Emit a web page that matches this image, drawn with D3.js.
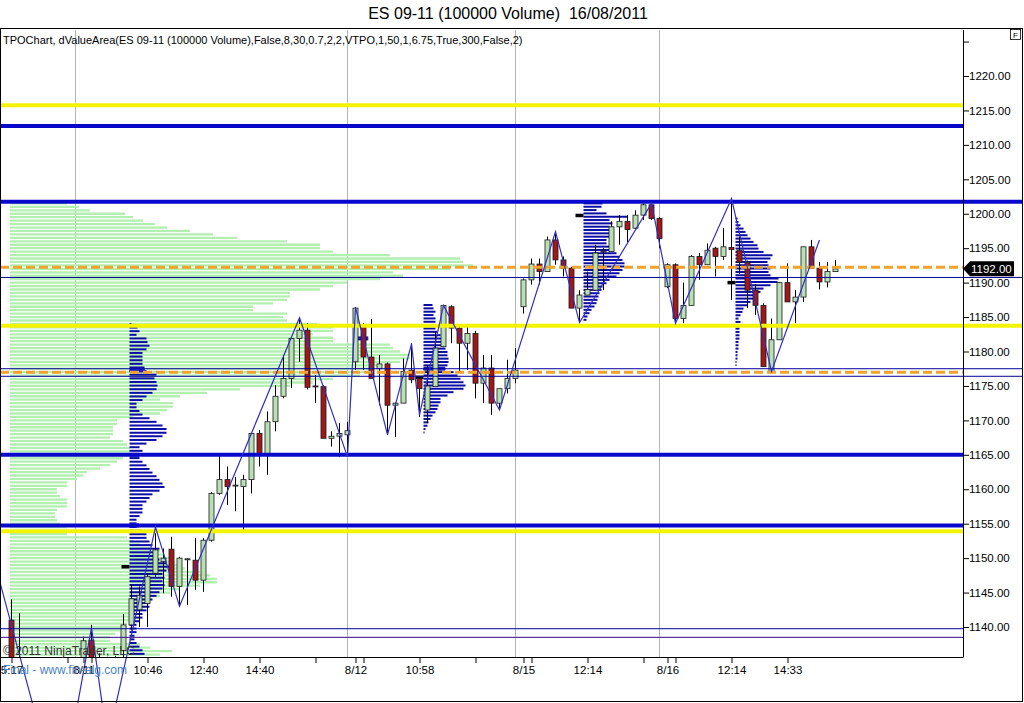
<!DOCTYPE html>
<html><head><meta charset="utf-8">
<script src="https://cdn.jsdelivr.net/npm/d3@7"></script>
<style>
body{margin:0;background:#fff;}
svg{display:block;font-family:"Liberation Sans",Arial,sans-serif;}
text{white-space:pre;}
</style>
</head><body>
<svg id="c" width="1024" height="703"></svg>
<script>
// ---------- DATA ----------
const titleText = "ES 09-11 (100000 Volume)  16/08/2011";
const indicatorText = "TPOChart, dValueArea(ES 09-11 (100000 Volume),False,8,30,0.7,2,2,VTPO,1,50,1,6.75,True,300,False,2)";

const candleOpen  = [1141,1133,1131,1124,1118,1121,1116,1120,1126,1131,1138.1,1132,1128,1126,1136.6,1140.3,1142.5,1143.4,1147.8,1149.5,1151.3,1145.9,1149.8,1149.7,1146.8,1152.6,1159.4,1161.4,1160.5,1160.4,1161.4,1168.1,1165.0,1169.8,1173.5,1176.1,1181.9,1183.1,1175.0,1174.9,1167.4,1167.7,1167.9,1178.5,1183.6,1179.2,1177.5,1178.2,1172.2,1172.5,1177.3,1176.1,1171.5,1174.9,1180.7,1186.5,1183.4,1181.2,1182.6,1175.4,1177.6,1172.5,1174.6,1176.1,1186.5,1190.4,1192.7,1191.6,1196.2,1193.3,1192.1,1186.3,1188.2,1188.9,1194.5,1194.5,1198.1,1198.9,1197.9,1199.8,1201.3,1199.3,1189.4,1192.6,1184.8,1186.7,1193.8,1192.6,1195.0,1193.8,1195.1,1194.7,1193.0,1188.9,1186.7,1177.1,1181.7,1190.0,1187.2,1187.9,1195.2,1192.1,1190.1,1191.6];
const candleHigh  = [1144,1142,1134,1127,1123,1125,1121,1128,1134,1138.6,1140.3,1136.2,1131,1135.8,1141.9,1146.1,1145.9,1147.8,1154.5,1151.4,1153.1,1150.2,1150.0,1152.9,1152.9,1159.6,1165.2,1163.3,1161.8,1162.1,1168.1,1168.6,1171.3,1175.1,1179.5,1181.9,1184.9,1184.1,1176.6,1175.1,1168.4,1169.6,1169.8,1186.4,1184.1,1184.7,1179.5,1178.4,1172.6,1179.0,1181.2,1176.3,1178.0,1182.9,1186.7,1186.7,1183.6,1183.6,1183.0,1179.5,1179.5,1174.6,1178.8,1180.5,1190.6,1193.5,1193.5,1196.7,1197.4,1193.8,1192.3,1188.9,1191.6,1195.5,1195.0,1198.9,1199.8,1199.8,1200.5,1201.5,1201.5,1199.5,1192.8,1192.8,1190.0,1194.0,1194.3,1195.7,1195.2,1197.9,1202.2,1196.7,1193.2,1189.8,1187.0,1184.8,1190.1,1192.8,1188.9,1195.2,1196.2,1193.0,1193.0,1193.3];
const candleLow   = [1128,1125,1122,1116,1114,1115,1112,1119,1124,1130,1129,1126,1123.3,1125,1133,1139.5,1140.0,1140.0,1147.3,1144.9,1144.4,1143.0,1143.2,1145.4,1145.1,1152.4,1159.2,1157.7,1156.8,1153.7,1159.4,1163.3,1162.1,1168.4,1173.2,1174.7,1178.5,1174.5,1172.5,1167.4,1166.2,1164.7,1164.7,1177.3,1177.3,1176.1,1172.2,1167.9,1167.6,1172.5,1175.4,1170.5,1169.6,1174.9,1180.7,1181.2,1177.1,1177.3,1173.2,1172.5,1170.8,1171.5,1173.9,1175.4,1185.5,1189.7,1189.7,1191.6,1192.6,1190.9,1186.3,1184.2,1188.2,1188.9,1188.9,1194.5,1195.5,1195.9,1197.7,1199.1,1199.1,1195.0,1189.2,1184.1,1184.1,1186.7,1190.4,1192.6,1190.9,1193.3,1187.5,1191.3,1186.3,1185.3,1177.8,1177.1,1181.7,1187.2,1184.1,1187.2,1192.1,1189.0,1189.3,1191.6];
const candleClose = [1132,1131,1124,1118,1121,1116,1120,1126,1131,1138.0,1132,1128,1126,1134,1140.3,1144.1,1144.6,1147.3,1151.2,1150.0,1145.9,1150.0,1149.9,1146.8,1152.6,1159.4,1161.4,1160.4,1160.6,1161.4,1168.1,1165.0,1169.8,1173.5,1176.1,1181.9,1183.1,1174.8,1174.9,1167.4,1167.7,1168.1,1168.5,1186.3,1179.2,1176.1,1178.2,1172.2,1172.5,1177.1,1175.9,1174.6,1175.0,1180.5,1186.7,1183.4,1181.2,1182.6,1175.4,1177.6,1172.5,1174.6,1176.1,1177.3,1190.4,1192.7,1191.6,1196.2,1193.3,1192.1,1186.3,1188.2,1189.0,1194.3,1194.6,1198.1,1198.9,1197.7,1199.8,1201.3,1199.3,1196.4,1192.6,1184.8,1186.7,1193.8,1192.6,1194.7,1193.8,1195.2,1194.8,1193.0,1188.9,1186.7,1177.8,1181.7,1190.0,1187.2,1187.9,1195.2,1192.1,1190.1,1191.6,1192.0];

const zigzagBar   = [-2, 6, 10, 12, 18, 21, 36, 42, 43, 47, 50, 51, 54, 61, 68, 71, 80, 83, 90, 95, 101];
const zigzagPrice = [1148.9,1114.3,1139.9,1123.3,1154.5,1143.0,1184.9,1164.7,1186.4,1167.9,1181.1,1170.8,1186.7,1171.5,1197.4,1184.2,1201.5,1184.1,1202.2,1177.1,1196.2];

// composite volume profile (left), from top price to bottom price
const volumeTop = 1201.5, volumeBottom = 1136.0;
const volumeProfile = [57,69,80,115,123,133,145,157,180,203,227,277,310,310,323,380,450,453,463,440,383,393,370,337,323,310,280,280,277,263,243,243,277,273,277,307,323,323,303,323,323,380,383,390,400,400,390,373,363,357,350,323,303,280,230,197,170,150,163,163,157,150,123,107,107,103,103,103,100,113,117,120,120,123,113,107,100,90,77,73,67,57,57,47,47,50,57,57,57,47,45,45,47,50,57,57,57,117,123,130,140,150,155,160,165,170,175,190,200,207,207,190,170,160,150,140,135,130,130,125,120,120,117,117,110,105,100,100,130,140,162,150];

// TPO profiles
const tpoStartBar = [14.75, 51.5, 71.5, 90.5];
const tpoTop      = [1184.0, 1186.75, 1201.5, 1199.3];
const tpoBottom   = [1136.1, 1168.25, 1184.6, 1178.0];
const tpoA = [2,8,10,7,17,18,20,17,13,13,13,13,15,17,27,25,27,28,27,23,17,13,7,7,10,13,20,27,33,37,37,33,27,17,10,13,15,10,13,17,20,23,27,30,33,35,30,23,20,17,13,13,13,10,7,7,7,13,17,17,20,23,30,27,27,30,37,43,37,33,35,33,35,33,30,27,23,20,20,17,13,13,10,7,7,7,5,5,7,10,13,15];
const tpoB = [9,10,12,10,12,12,14,12,14,17,19,20,20,22,24,24,25,25,24,22,30,34,37,40,42,40,30,24,17,17,15,14,12,9,7,5,4,2,1];
const tpoC = [19,18,13,23,44,26,29,26,26,26,26,23,23,26,29,33,36,39,41,41,39,36,33,26,23,19,18,16,15,14,13,11,8,6,4,3];
const tpoD = [2,3,5,8,10,12,15,18,22,23,28,37,35,32,33,35,33,35,43,42,35,28,25,22,18,15,12,8,7,5,3,5,5,4,4,4,4,3,3,3,2,2,2,1,1];
const tpoHighlightBar   = [14.75, 14.75, 14.75, 51.5, 43.2];
const tpoHighlightPrice = [1177.25, 1165.0, 1154.75, 1177.5, 1181.9];
const tpoHighlightLen   = [1.9, 1.2, 1.2, 2.7, 1.4];   // in bars
const pocMarkBar   = [13.75, 50.5, 70.5, 89.5];
const pocMarkPrice = [1148.75, 1176.25, 1199.75, 1190.0];

// horizontal levels
const yellowLevels     = [1215.75, 1183.75, 1153.9];
const blueThickLevels  = [1212.75, 1201.75, 1165.0, 1154.75];
const orangeLevels     = [1192.25, 1177.0];
const thinBlueLevels   = [1190.75, 1177.5, 1176.4, 1139.75];
const thinPurpleLevels = [1138.5];
const extendedLevels   = [1201.75, 1183.75, 1190.75, 1177.5, 1176.4];

const dayLineBars  = [8, 42, 63, 81];
const xTickBars    = [0, 7, 9, 10, 17, 24, 31, 38, 43, 44, 51, 58, 64, 65, 72, 79, 82, 83, 90, 97];
const xTickLabels  = ["5:17","","8/11","","10:46","12:40","14:40","","8/12","","10:58","","8/15","","12:14","","8/16","","12:14","14:33"];
const yTickValues  = d3.range(1140, 1226, 5);
const lastPrice    = 1192.00;

// ---------- LAYOUT ----------
const plotL = 0, plotR = 963, plotT = 30, plotB = 657;
const y = d3.scaleLinear().domain([1140, 1220]).range([627, 76]);
const x = d3.scaleLinear().domain([0, 103]).range([11.5, 835.5]);
const volW = d3.scaleLinear().domain([0, d3.max(volumeProfile)]).range([0, 463]);
const tpoW = d3.scaleLinear().domain([0, 10]).range([0, 10]);

const svg = d3.select("#c");
svg.append("rect").attr("width", 1024).attr("height", 703).attr("fill", "#fff");
const defs = svg.append("defs");
defs.append("clipPath").attr("id", "plotClip").append("rect")
  .attr("x", plotL).attr("y", plotT).attr("width", plotR - plotL).attr("height", plotB - plotT);
defs.append("clipPath").attr("id", "zzClip").append("rect")
  .attr("x", plotL).attr("y", plotT).attr("width", plotR - plotL).attr("height", 703 - plotT);
defs.append("clipPath").attr("id", "wideClip").append("rect")
  .attr("x", plotL).attr("y", plotT).attr("width", 1022 - plotL).attr("height", plotB - plotT);

const plot = svg.append("g").attr("clip-path", "url(#plotClip)");

// day separator lines
plot.selectAll("line.day").data(dayLineBars).join("line")
  .attr("x1", d => x(d)).attr("x2", d => x(d))
  .attr("y1", plotT).attr("y2", plotB)
  .attr("stroke", "#b4b4b4").attr("stroke-width", 1);

// composite volume profile
const volStep = (volumeTop - volumeBottom) / (volumeProfile.length - 1);
plot.append("g").selectAll("line").data(volumeProfile).join("line")
  .attr("x1", 10).attr("x2", d => 10 + volW(d))
  .attr("y1", (d, i) => y(volumeTop - i * volStep)).attr("y2", (d, i) => y(volumeTop - i * volStep))
  .attr("stroke", "#b2efb0").attr("stroke-width", 2.3);

// TPO profiles
[tpoA, tpoB, tpoC, tpoD].forEach((prof, p) => {
  const step = (tpoTop[p] - tpoBottom[p]) / (prof.length - 1);
  const x0 = x(tpoStartBar[p]);
  plot.append("g").selectAll("line").data(prof).join("line")
    .attr("x1", x0).attr("x2", d => x0 + tpoW(d))
    .attr("y1", (d, i) => y(tpoTop[p] - i * step)).attr("y2", (d, i) => y(tpoTop[p] - i * step))
    .attr("stroke", "#0c0ca6").attr("stroke-width", 2);
});
plot.append("g").selectAll("line").data(tpoHighlightPrice).join("line")
  .attr("x1", (d, i) => x(tpoHighlightBar[i]))
  .attr("x2", (d, i) => x(tpoHighlightBar[i] + tpoHighlightLen[i]))
  .attr("y1", d => y(d)).attr("y2", d => y(d))
  .attr("stroke", "#1a1acc").attr("stroke-width", 4);

// POC markers
plot.append("g").selectAll("line").data(pocMarkPrice).join("line")
  .attr("x1", (d, i) => x(pocMarkBar[i])).attr("x2", (d, i) => x(pocMarkBar[i] + 1))
  .attr("y1", d => y(d)).attr("y2", d => y(d))
  .attr("stroke", "#000").attr("stroke-width", 3.5);

// candles
const idx = d3.range(candleOpen.length);
const cg = plot.append("g");
cg.selectAll("line.wick").data(idx).join("line").attr("class", "wick")
  .attr("x1", i => x(i)).attr("x2", i => x(i))
  .attr("y1", i => y(candleHigh[i])).attr("y2", i => y(candleLow[i]))
  .attr("stroke", "#000").attr("stroke-width", 1);
cg.selectAll("rect.body").data(idx).join("rect").attr("class", "body")
  .attr("x", i => x(i) - 2.5).attr("width", 5)
  .attr("y", i => y(Math.max(candleOpen[i], candleClose[i])))
  .attr("height", i => Math.max(1, Math.abs(y(candleOpen[i]) - y(candleClose[i]))))
  .attr("fill", i => candleClose[i] >= candleOpen[i] ? "#b8e0b4" : "#a01818")
  .attr("stroke", "#1a1a1a").attr("stroke-width", 0.8);

// horizontal level lines
function levels(data, color, width, dash) {
  data.forEach(v => {
    const ext = extendedLevels.includes(v);
    svg.append("line")
      .attr("clip-path", ext ? "url(#wideClip)" : "url(#plotClip)")
      .attr("x1", plotL).attr("x2", ext ? 1022 : plotR)
      .attr("y1", y(v)).attr("y2", y(v))
      .attr("stroke", color).attr("stroke-width", width)
      .attr("stroke-dasharray", dash || null);
  });
}
levels(yellowLevels, "#f4f400", 4);
levels(blueThickLevels, "#0808cc", 4);
levels(orangeLevels, "#f0a22a", 3, "9,4");
levels(thinBlueLevels, "#00009a", 1);
levels(thinPurpleLevels, "#3a0a8a", 1);

// zigzag
const zz = zigzagBar.map((b, i) => [b, zigzagPrice[i]]);
svg.append("path").attr("clip-path", "url(#zzClip)")
  .attr("d", d3.line().x(d => x(d[0])).y(d => y(d[1]))(zz))
  .attr("fill", "none").attr("stroke", "#2f2fc8").attr("stroke-width", 1.2);

// axes
const yAxis = d3.axisRight(y).tickValues(yTickValues)
  .tickFormat(d => d > 1220 ? "" : d.toFixed(2)).tickSize(6).tickPadding(0);
const ya = svg.append("g").attr("transform", `translate(${plotR},0)`).call(yAxis);
ya.select(".domain").remove();
ya.selectAll("text").attr("font-size", 11.5).attr("fill", "#000").attr("font-family", "Liberation Sans, Arial, sans-serif");
ya.selectAll("line").attr("stroke", "#000");

const xAxis = d3.axisBottom(x).tickValues(xTickBars)
  .tickFormat((d, i) => xTickLabels[i]).tickSize(6).tickPadding(3);
const xa = svg.append("g").attr("transform", `translate(0,${plotB})`).call(xAxis);
xa.select(".domain").remove();
xa.selectAll("text").attr("font-size", 11.5).attr("fill", "#000").attr("font-family", "Liberation Sans, Arial, sans-serif");
xa.selectAll("line").attr("stroke", "#000");

svg.append("line").attr("x1", plotR + 0.5).attr("x2", plotR + 0.5).attr("y1", plotT).attr("y2", plotB)
  .attr("stroke", "#000");
svg.append("line").attr("x1", 0).attr("x2", plotR + 0.5).attr("y1", plotB + 0.5).attr("y2", plotB + 0.5)
  .attr("stroke", "#000");

// frame
svg.append("rect").attr("x", 0.5).attr("y", 28.5).attr("width", 1022).attr("height", 673)
  .attr("fill", "none").attr("stroke", "#000");

// last price marker
const ly = y(lastPrice);
svg.append("path")
  .attr("d", `M${plotR},${ly} L${plotR + 7},${ly - 7.5} L1014,${ly - 7.5} L1014,${ly + 7.5} L${plotR + 7},${ly + 7.5} Z`)
  .attr("fill", "#000");
svg.append("text").attr("x", 971).attr("y", ly + 4.2).attr("font-size", 11.5).attr("fill", "#fff")
  .text(lastPrice.toFixed(2));

// F box
svg.append("rect").attr("x", 1010.5).attr("y", 29.5).attr("width", 10).attr("height", 10)
  .attr("fill", "#fff").attr("stroke", "#000").attr("stroke-width", 0.8);
svg.append("text").attr("x", 1015.5).attr("y", 37.5).attr("font-size", 8).attr("text-anchor", "middle").text("F");

// texts
svg.append("text").attr("x", 508).attr("y", 19).attr("text-anchor", "middle")
  .attr("font-size", 16).attr("fill", "#000").text(titleText);
svg.append("text").attr("x", 3).attr("y", 44).attr("font-size", 11).attr("fill", "#000").text(indicatorText);
svg.append("text").attr("x", 3).attr("y", 655).attr("font-size", 12).attr("fill", "#333").text("\u00a9 2011 NinjaTrader, LLC");
svg.append("text").attr("x", 3).attr("y", 674).attr("font-size", 12).attr("fill", "#4a84c4").text("Final - www.fin-alg.com");
</script>
</body></html>
